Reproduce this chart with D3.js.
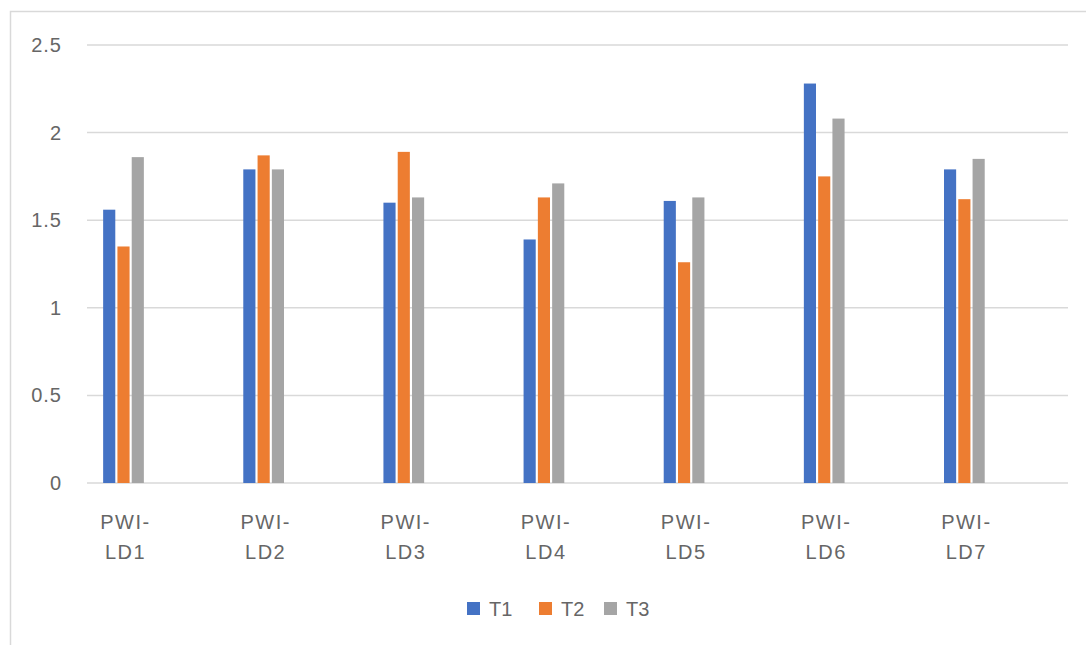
<!DOCTYPE html>
<html>
<head>
    <script src="https://cdnjs.cloudflare.com/ajax/libs/d3/7.8.5/d3.min.js"></script>
    <style>
        body { margin: 0; background: white; }
        text { font-family: "Liberation Sans", Arial, sans-serif; fill: #666; }
    </style>
</head>
<body>
<div id="chart"></div>
<script>
// Data
const categories = ['PWI-LD1', 'PWI-LD2', 'PWI-LD3', 'PWI-LD4', 'PWI-LD5', 'PWI-LD6', 'PWI-LD7'];
const seriesNames = ['T1', 'T2', 'T3'];
const t1 = [1.56, 1.79, 1.60, 1.39, 1.61, 2.28, 1.79];
const t2 = [1.35, 1.87, 1.89, 1.63, 1.26, 1.75, 1.62];
const t3 = [1.86, 1.79, 1.63, 1.71, 1.63, 2.08, 1.85];
const yTicks = [0, 0.5, 1, 1.5, 2, 2.5];

const colors = { T1: '#4472c4', T2: '#ed7d31', T3: '#a5a5a5' };
const seriesValues = { T1: t1, T2: t2, T3: t3 };

const width = 1086, height = 645;
const svg = d3.select('#chart').append('svg')
    .attr('width', width).attr('height', height);

// chart frame
svg.append('rect')
    .attr('x', 10.5).attr('y', 11.5)
    .attr('width', 1090).attr('height', 700)
    .attr('fill', 'none').attr('stroke', '#d9d9d9').attr('stroke-width', 1.5);

// Scales
const x0 = d3.scaleBand().domain(categories).range([87, 1068]);
const x1 = d3.scaleBand().domain(seriesNames).range([14, 59]).padding(0.15);
const y = d3.scaleLinear().domain([0, 2.5]).range([483, 45]);

// gridlines
svg.append('g')
    .selectAll('line')
    .data(yTicks)
    .join('line')
    .attr('x1', 87).attr('x2', 1068)
    .attr('y1', d => y(d)).attr('y2', d => y(d))
    .attr('stroke', '#d9d9d9').attr('stroke-width', 1.5);

// y axis labels
svg.append('g')
    .selectAll('text')
    .data(yTicks)
    .join('text')
    .attr('x', 62)
    .attr('y', d => y(d))
    .attr('dy', '0.35em')
    .attr('text-anchor', 'end')
    .attr('font-size', 20)
    .attr('letter-spacing', 1)
    .text(d => d);

// bars
const groups = svg.append('g')
    .selectAll('g')
    .data(categories)
    .join('g')
    .attr('transform', d => `translate(${x0(d)},0)`);

groups.selectAll('rect')
    .data((c, i) => seriesNames.map(s => ({ s, v: seriesValues[s][i] })))
    .join('rect')
    .attr('x', d => x1(d.s))
    .attr('width', x1.bandwidth())
    .attr('y', d => y(d.v))
    .attr('height', d => y(0) - y(d.v))
    .attr('fill', d => colors[d.s]);

// x labels (wrapped in two lines)
const groupCenter = x1.range()[0] + (x1.range()[1] - x1.range()[0]) / 2 + 2;
const xl = groups.append('text')
    .attr('text-anchor', 'middle')
    .attr('font-size', 20)
    .attr('letter-spacing', 1.5);
xl.append('tspan')
    .attr('x', groupCenter).attr('y', 529)
    .text(d => d.split('-')[0] + '-');
xl.append('tspan')
    .attr('x', groupCenter).attr('y', 559)
    .text(d => d.split('-')[1]);

// legend
const legendX = [467, 539, 604];
const legend = svg.append('g')
    .selectAll('g')
    .data(seriesNames)
    .join('g')
    .attr('transform', (d, i) => `translate(${legendX[i]},602)`);
legend.append('rect')
    .attr('width', 13).attr('height', 13)
    .attr('fill', d => colors[d]);
legend.append('text')
    .attr('x', 22).attr('y', 6.5).attr('dy', '0.35em')
    .attr('font-size', 20)
    .text(d => d);
</script>
</body>
</html>
